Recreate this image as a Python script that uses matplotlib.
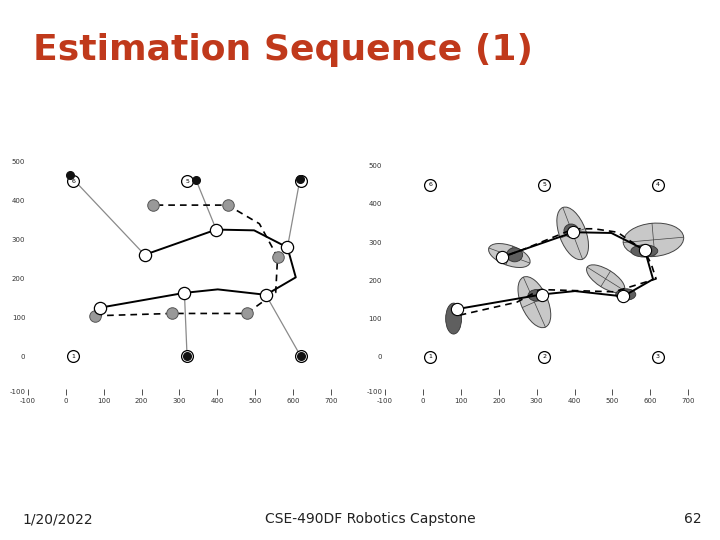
import numpy as np
import matplotlib
matplotlib.use("Agg")
import matplotlib.pyplot as plt
from matplotlib.patches import Ellipse

# ---------------- data ----------------
lm_x = [20, 320, 620, 620, 320, 20]
lm_y = [0, 0, 0, 450, 450, 450]
lm_id = ["1", "2", "3", "4", "5", "6"]

# true robot path (solid) and poses (white circles)
true_x = [91, 313, 401, 528, 607, 585, 497, 397, 208]
true_y = [125, 163, 172, 158, 203, 280, 324, 326, 261]
pose_x = [91, 313, 528, 585, 397, 208]
pose_y = [125, 163, 158, 280, 326, 261]

# odometry path (dashed) and odometry poses (grey circles)
odo_x = [78, 280, 477, 554, 559, 511, 427, 230]
odo_y = [104, 110, 110, 164, 255, 341, 389, 389]
odo_px = [78, 280, 477, 559, 427, 230]
odo_py = [104, 110, 110, 255, 389, 389]

# measurements: pose index -> observed point
meas_pose = [5, 4, 3, 2, 1]
meas_x = [20, 344, 618, 620, 320]
meas_y = [455, 453, 455, 0, 0]
# observed landmark dots
obs_x = [10, 344, 618, 320, 620]
obs_y = [466, 453, 455, 0, 0]

# EKF estimate path (right plot, dashed)
ekf_x = [97, 248, 310, 504, 615, 602, 584, 513, 451, 398, 270, 212]
ekf_y = [109, 143, 176, 170, 204, 243, 278, 326, 335, 335, 283, 261]

# pose uncertainty ellipses (light) : cx, cy, w, h, angle
big_cx = [294, 395, 608, 482, 228]
big_cy = [143, 323, 306, 204, 265]
big_w = [143, 145, 160, 115, 115]
big_h = [70, 70, 87, 48, 52]
big_a = [114, 111, 5, -32, -20]

# small dark ellipses
sm_cx = [81, 300, 391, 584, 535, 242]
sm_cy = [100, 161, 330, 277, 163, 267]
sm_w = [42, 45, 38, 71, 53, 42]
sm_h = [81, 30, 35, 32, 30, 37]

xticks = [-100, 0, 100, 200, 300, 400, 500, 600, 700]
yticks = [-100, 0, 100, 200, 300, 400, 500]

fig = plt.figure(figsize=(7.2, 5.4), dpi=100)
fig.patch.set_facecolor("white")

fig.text(0.046, 0.888, "Estimation Sequence (1)", fontsize=26, fontweight="bold",
         color="#C0391B", family="DejaVu Sans")
fig.text(0.031, 0.031, "1/20/2022", fontsize=10, color="#222222")
fig.text(0.514, 0.031, "CSE-490DF Robotics Capstone", fontsize=10, color="#222222", ha="center")
fig.text(0.974, 0.031, "62", fontsize=10, color="#222222", ha="right")


def setup(ax):
    ax.set_xlim(-100, 700)
    ax.set_ylim(-100, 500)
    for s in ax.spines.values():
        s.set_visible(False)
    ax.set_xticks(xticks)
    ax.set_yticks(yticks)
    ax.set_xticklabels([str(v) for v in xticks])
    ax.set_yticklabels([str(v) for v in yticks])
    ax.tick_params(axis="x", direction="in", length=4, width=0.6, pad=2, labelsize=5, colors="#333333")
    ax.tick_params(axis="y", length=0, pad=2, labelsize=5, colors="#333333")
    ax.get_yticklabels()[0].set_va("bottom")


def landmarks(ax):
    ax.plot(lm_x, lm_y, "o", ms=8.5, mfc="white", mec="black", mew=0.9, zorder=5)
    for x, y, t in zip(lm_x, lm_y, lm_id):
        ax.text(x, y, t, fontsize=4.5, ha="center", va="center", zorder=6)


# ---------------- left plot: odometry only ----------------
ax1 = fig.add_axes([0.0389, 0.2685, 0.4208, 0.4315])
setup(ax1)
for i, mx, my in zip(meas_pose, meas_x, meas_y):
    ax1.plot([pose_x[i], mx], [pose_y[i], my], color="#8a8a8a", lw=0.9, zorder=1)
ax1.plot(odo_x, odo_y, "--", color="black", lw=1.2, dashes=(4, 3), zorder=2)
ax1.plot(true_x, true_y, "-", color="black", lw=1.4, zorder=2)
ax1.plot(odo_px, odo_py, "o", ms=8.3, mfc="#999999", mec="#555555", mew=0.7, zorder=3)
landmarks(ax1)
ax1.plot(obs_x, obs_y, "o", ms=5.5, color="#111111", zorder=7)
ax1.plot(pose_x, pose_y, "o", ms=8.8, mfc="white", mec="black", mew=0.9, zorder=4)

# ---------------- right plot: EKF estimate ----------------
ax2 = fig.add_axes([0.5347, 0.2685, 0.4213, 0.4246])
setup(ax2)
for cx, cy, w, h, a in zip(big_cx, big_cy, big_w, big_h, big_a):
    ax2.add_patch(Ellipse((cx, cy), w, h, angle=a, fc="#c8c8c8", ec="#444444", lw=0.7, zorder=1))
    t = np.deg2rad(a)
    ax2.plot([cx - w / 2 * np.cos(t), cx + w / 2 * np.cos(t)],
             [cy - w / 2 * np.sin(t), cy + w / 2 * np.sin(t)], color="#444444", lw=0.5, zorder=1)
    ax2.plot([cx + h / 2 * np.sin(t), cx - h / 2 * np.sin(t)],
             [cy - h / 2 * np.cos(t), cy + h / 2 * np.cos(t)], color="#444444", lw=0.5, zorder=1)
for cx, cy, w, h in zip(sm_cx, sm_cy, sm_w, sm_h):
    ax2.add_patch(Ellipse((cx, cy), w, h, fc="#5f5f5f", ec="#333333", lw=0.6, zorder=2))
ax2.plot(ekf_x, ekf_y, "--", color="black", lw=1.2, dashes=(4, 3), zorder=3)
ax2.plot(true_x, true_y, "-", color="black", lw=1.4, zorder=3)
ax2.plot(pose_x, pose_y, "o", ms=8.8, mfc="white", mec="black", mew=0.8, zorder=4)
landmarks(ax2)

fig.savefig("out.png", dpi=100)
